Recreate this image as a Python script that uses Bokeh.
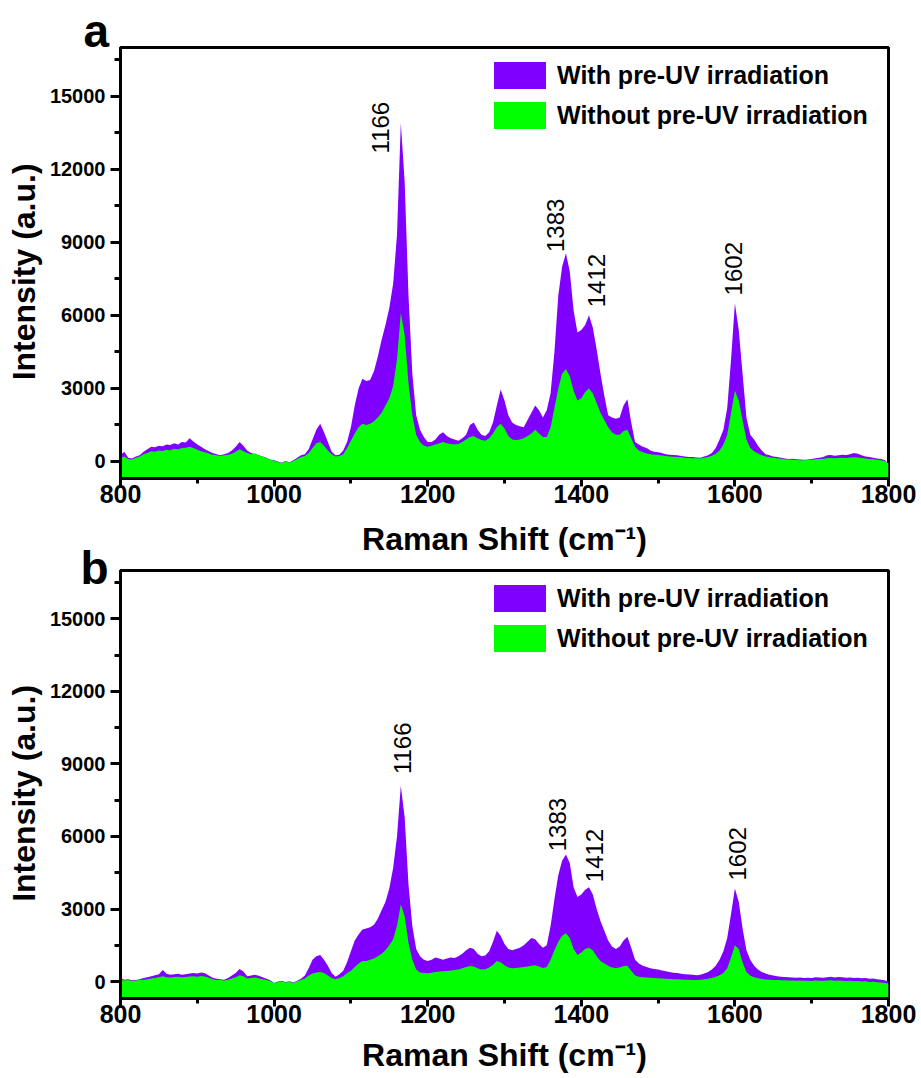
import numpy as np
from bokeh.plotting import figure
from bokeh.models import (ColumnDataSource, Legend, LegendItem, Title,
                          SingleIntervalTicker, Range1d)
from bokeh.layouts import column
from bokeh.embed import file_html
from bokeh.resources import INLINE
from bokeh.core.properties import value

# Raman shift sampling (cm^-1), 5 cm^-1 steps from 800 to 1800
wavenumber = list(range(800, 1805, 5))

# Panel a: intensities (a.u.)
a_with_uv = [
    250, 400, 150, 120, 200, 250, 400, 500, 600, 580, 650, 620, 700, 680, 750, 700, 800, 780, 950, 820,
    700, 600, 500, 420, 350, 300, 250, 300, 350, 450, 600, 800, 650, 450, 350, 300, 250, 200, 150, 80,
    50, 0, -50, 20, -30, 50, 150, 250, 300, 500, 900, 1300, 1550, 1200, 800, 400, 250, 280, 450, 800,
    1400, 2300, 3000, 3400, 3300, 3350, 3700, 4300, 5000, 5600, 6300, 7300, 9300, 13900, 11500, 6800, 3600, 1900, 1300, 1000,
    800, 800, 900, 1100, 1200, 1050, 950, 900, 850, 950, 1100, 1500, 1600, 1300, 1100, 1050, 1200, 1600, 2300, 2950,
    2500, 1900, 1600, 1500, 1450, 1400, 1700, 2000, 2300, 2100, 1800, 2100, 2800, 4500, 6800, 8000, 8550, 7800, 6200, 5300,
    5400, 5600, 6000, 5500, 4600, 3600, 2700, 1900, 1800, 1750, 1800, 2300, 2550, 1600, 800, 700, 600, 550, 450, 400,
    380, 350, 300, 280, 260, 250, 220, 200, 180, 180, 160, 150, 200, 250, 350, 550, 900, 1300, 2200, 4200,
    6500, 5400, 3600, 1800, 1100, 900, 650, 450, 300, 250, 200, 180, 150, 120, 100, 110, 90, 80, 70, 80,
    100, 130, 150, 180, 250, 260, 230, 250, 280, 260, 300, 350, 320, 250, 200, 180, 150, 120, 100, 60,
    -100,
]
a_without_uv = [
    150, 200, 100, 80, 150, 200, 300, 350, 420, 400, 450, 430, 480, 460, 520, 500, 550, 560, 600, 550,
    480, 420, 380, 330, 280, 250, 220, 250, 280, 320, 400, 500, 420, 350, 300, 340, 250, 200, 150, 80,
    30, -20, -60, 0, -40, 20, 100, 180, 220, 350, 550, 750, 800, 650, 450, 300, 200, 220, 300, 550,
    850, 1150, 1400, 1550, 1500, 1550, 1650, 1800, 2000, 2300, 2600, 3100, 4200, 6100, 5200, 3200, 1900, 1100, 800, 650,
    600, 650, 700, 750, 800, 750, 720, 700, 720, 800, 900, 1000, 1050, 950, 880, 850, 950, 1150, 1400, 1550,
    1350, 1050, 900, 880, 900, 950, 1050, 1150, 1300, 1150, 1000, 1000, 1400, 2200, 3000, 3600, 3800, 3500, 2900, 2500,
    2600, 2850, 3000, 2800, 2400, 2000, 1700, 1400, 1200, 1100, 1100, 1250, 1300, 950, 600, 450, 380, 330, 300, 280,
    260, 240, 220, 200, 190, 180, 170, 150, 140, 130, 130, 120, 150, 180, 230, 320, 450, 700, 1100, 2000,
    2900, 2500, 1700, 900, 550, 420, 330, 250, 200, 170, 150, 130, 110, 90, 80, 70, 60, 50, 50, 60,
    70, 90, 100, 110, 130, 140, 130, 140, 150, 140, 160, 170, 160, 140, 120, 100, 90, 70, 50, 20,
    -80,
]

# Panel b: intensities (a.u.)
b_with_uv = [
    150, 80, 100, 50, 70, 100, 150, 180, 220, 260, 300, 480, 320, 280, 300, 320, 280, 300, 330, 350,
    330, 380, 340, 250, 160, 120, 100, 80, 150, 250, 350, 520, 420, 220, 250, 280, 240, 180, 120, 50,
    -60, 0, 20, -20, 10, -40, 30, 120, 250, 550, 900, 1050, 1100, 900, 650, 350, 200, 300, 450, 800,
    1250, 1700, 1950, 2150, 2200, 2250, 2350, 2600, 2950, 3300, 3850, 4700, 6000, 8100, 6800, 4000, 2300, 1350, 1050, 900,
    850, 900, 1000, 950, 900, 950, 1000, 980, 1050, 1150, 1300, 1400, 1350, 1150, 1050, 1080, 1250, 1650, 2100, 1900,
    1550, 1350, 1300, 1350, 1400, 1500, 1650, 1800, 1750, 1550, 1400, 1500, 2300, 3400, 4400, 5000, 5250, 4900, 3900, 3500,
    3600, 3800, 3900, 3600, 3000, 2500, 2100, 1700, 1450, 1350, 1450, 1700, 1850, 1400, 900, 750, 650, 600, 550, 520,
    500, 460, 430, 400, 370, 350, 320, 300, 290, 280, 260, 280, 330, 400, 500, 650, 900, 1250, 1800, 2800,
    3850, 3300, 2200, 1300, 900, 650, 500, 400, 330, 280, 250, 220, 200, 190, 180, 170, 160, 170, 150, 160,
    150, 180, 170, 160, 180, 200, 170, 190, 180, 160, 170, 150, 160, 140, 150, 120, 130, 100, 80, 50,
    0,
]
b_without_uv = [
    80, 40, 60, 20, 40, 60, 80, 100, 130, 150, 180, 220, 180, 170, 190, 200, 180, 190, 210, 220,
    200, 230, 210, 160, 100, 70, 60, 40, 80, 130, 180, 260, 220, 130, 150, 170, 140, 100, 70, 20,
    -70, -20, 0, -40, -10, -60, 10, 60, 130, 250, 330, 380, 400, 350, 250, 150, 100, 150, 220, 350,
    450, 600, 750, 850, 850, 900, 950, 1050, 1150, 1300, 1500, 1750, 2300, 3200, 2700, 1600, 900, 500, 380, 350,
    340, 360, 400, 420, 430, 440, 460, 480, 500, 550, 600, 640, 620, 550, 500, 510, 580, 700, 850, 800,
    680, 580, 550, 560, 580, 600, 620, 650, 680, 620, 560, 600, 900, 1300, 1650, 1900, 2000, 1800, 1350, 1100,
    1200, 1350, 1400, 1300, 1050, 850, 750, 650, 580, 560, 580, 640, 650, 450, 250, 200, 180, 170, 160, 150,
    140, 130, 120, 110, 100, 100, 90, 80, 80, 70, 70, 80, 100, 120, 150, 200, 260, 350, 550, 1000,
    1500, 1350, 800, 400, 250, 180, 140, 110, 90, 80, 70, 60, 50, 50, 40, 40, 30, 40, 30, 30,
    20, 40, 30, 30, 40, 50, 30, 40, 30, 20, 30, 10, 20, 0, 10, -20, -10, -30, -40, -60,
    -80,
]

# Peak annotations
peak_text = ["1166", "1383", "1412", "1602"]
a_peak_x = [1139, 1366, 1420, 1598]
a_peak_y = [12650, 8600, 6330, 6820]
b_peak_x = [1167, 1369, 1417, 1603]
b_peak_y = [8580, 5390, 4110, 4180]

PURPLE = "#8000ff"
GREEN = "#00ff00"
FONT = "Liberation Sans"


def make_panel(letter, letter_dx, letter_drop, with_vals, without_vals, px, py,
               top, frame_h, bottom, xlabel_standoff):
    src = ColumnDataSource(dict(x=wavenumber, w=with_vals, wo=without_vals))
    p = figure(width=921, height=top + frame_h + bottom,
               x_range=Range1d(800, 1800), y_range=Range1d(-700, 17000),
               output_backend="svg", toolbar_location=None,
               min_border_left=120, min_border_right=33,
               min_border_top=top, min_border_bottom=bottom)
    p.border_fill_color = None
    p.background_fill_color = None
    p.grid.visible = False
    p.outline_line_color = "black"
    p.outline_line_width = 3

    r_with = p.varea(x="x", y1=-2000, y2="w", source=src, fill_color=PURPLE)
    r_without = p.varea(x="x", y1=-2000, y2="wo", source=src, fill_color=GREEN)

    p.text(x=px, y=py, text=peak_text, angle=np.pi / 2,
           text_align="left", text_baseline="middle",
           text_font=value(FONT), text_font_size="24px", text_color="black")

    p.xaxis.ticker = SingleIntervalTicker(interval=200, num_minor_ticks=2)
    p.yaxis.ticker = SingleIntervalTicker(interval=3000, num_minor_ticks=2)
    p.xaxis.axis_label = "Raman Shift (cm\u207b\u00b9)"
    p.yaxis.axis_label = "Intensity (a.u.)\u00a0\u00a0"

    for ax in (p.xaxis[0], p.yaxis[0]):
        ax.axis_line_width = 3
        ax.major_tick_line_width = 3
        ax.minor_tick_line_width = 3
        ax.major_tick_in = 0
        ax.minor_tick_in = 0
        ax.axis_label_text_font = FONT
        ax.axis_label_text_font_style = "bold"
        ax.axis_label_text_font_size = "32px"
        ax.axis_label_text_color = "black"
        ax.major_label_text_font = FONT
        ax.major_label_text_font_style = "bold"
        ax.major_label_text_color = "black"
    p.xaxis.major_label_text_font_size = "25px"
    p.yaxis.major_label_text_font_size = "20px"
    p.xaxis.major_tick_out = 8
    p.xaxis.minor_tick_out = 5
    p.yaxis.major_tick_out = 10
    p.yaxis.minor_tick_out = 6
    p.xaxis.major_label_standoff = -2
    p.yaxis.major_label_standoff = 5
    p.xaxis.axis_label_standoff = xlabel_standoff
    p.yaxis.axis_label_standoff = 5

    legend = Legend(items=[LegendItem(label="With pre-UV irradiation", renderers=[r_with]),
                           LegendItem(label="Without pre-UV irradiation", renderers=[r_without])],
                    location=(367, frame_h - 11 - 74),
                    glyph_width=65, glyph_height=34, label_height=34,
                    label_standoff=5, spacing=6, padding=0, margin=0,
                    border_line_color=None, background_fill_alpha=0,
                    label_text_font=FONT, label_text_font_style="bold",
                    label_text_font_size="25px", label_text_color="black")
    p.add_layout(legend)

    # panel letter, pulled down toward the frame with a negative standoff
    p.add_layout(Title(text=letter, align="left", offset=letter_dx,
                       standoff=-2 * letter_drop,
                       text_font=FONT, text_font_style="bold", text_font_size="46px",
                       text_color="black"), "above")
    return p


pa = make_panel("a", -37, 9, a_with_uv, a_without_uv, a_peak_x, a_peak_y,
                top=47, frame_h=431, bottom=84, xlabel_standoff=15)
pb = make_panel("b", -40, 23, b_with_uv, b_without_uv, b_peak_x, b_peak_y,
                top=44, frame_h=428, bottom=80, xlabel_standoff=11)
pb.margin = (-(pa.height + pb.height - 1078), 0, 0, 0)

layout = column(pa, pb, spacing=0)
open("out.html", "w").write(file_html(layout, INLINE))
